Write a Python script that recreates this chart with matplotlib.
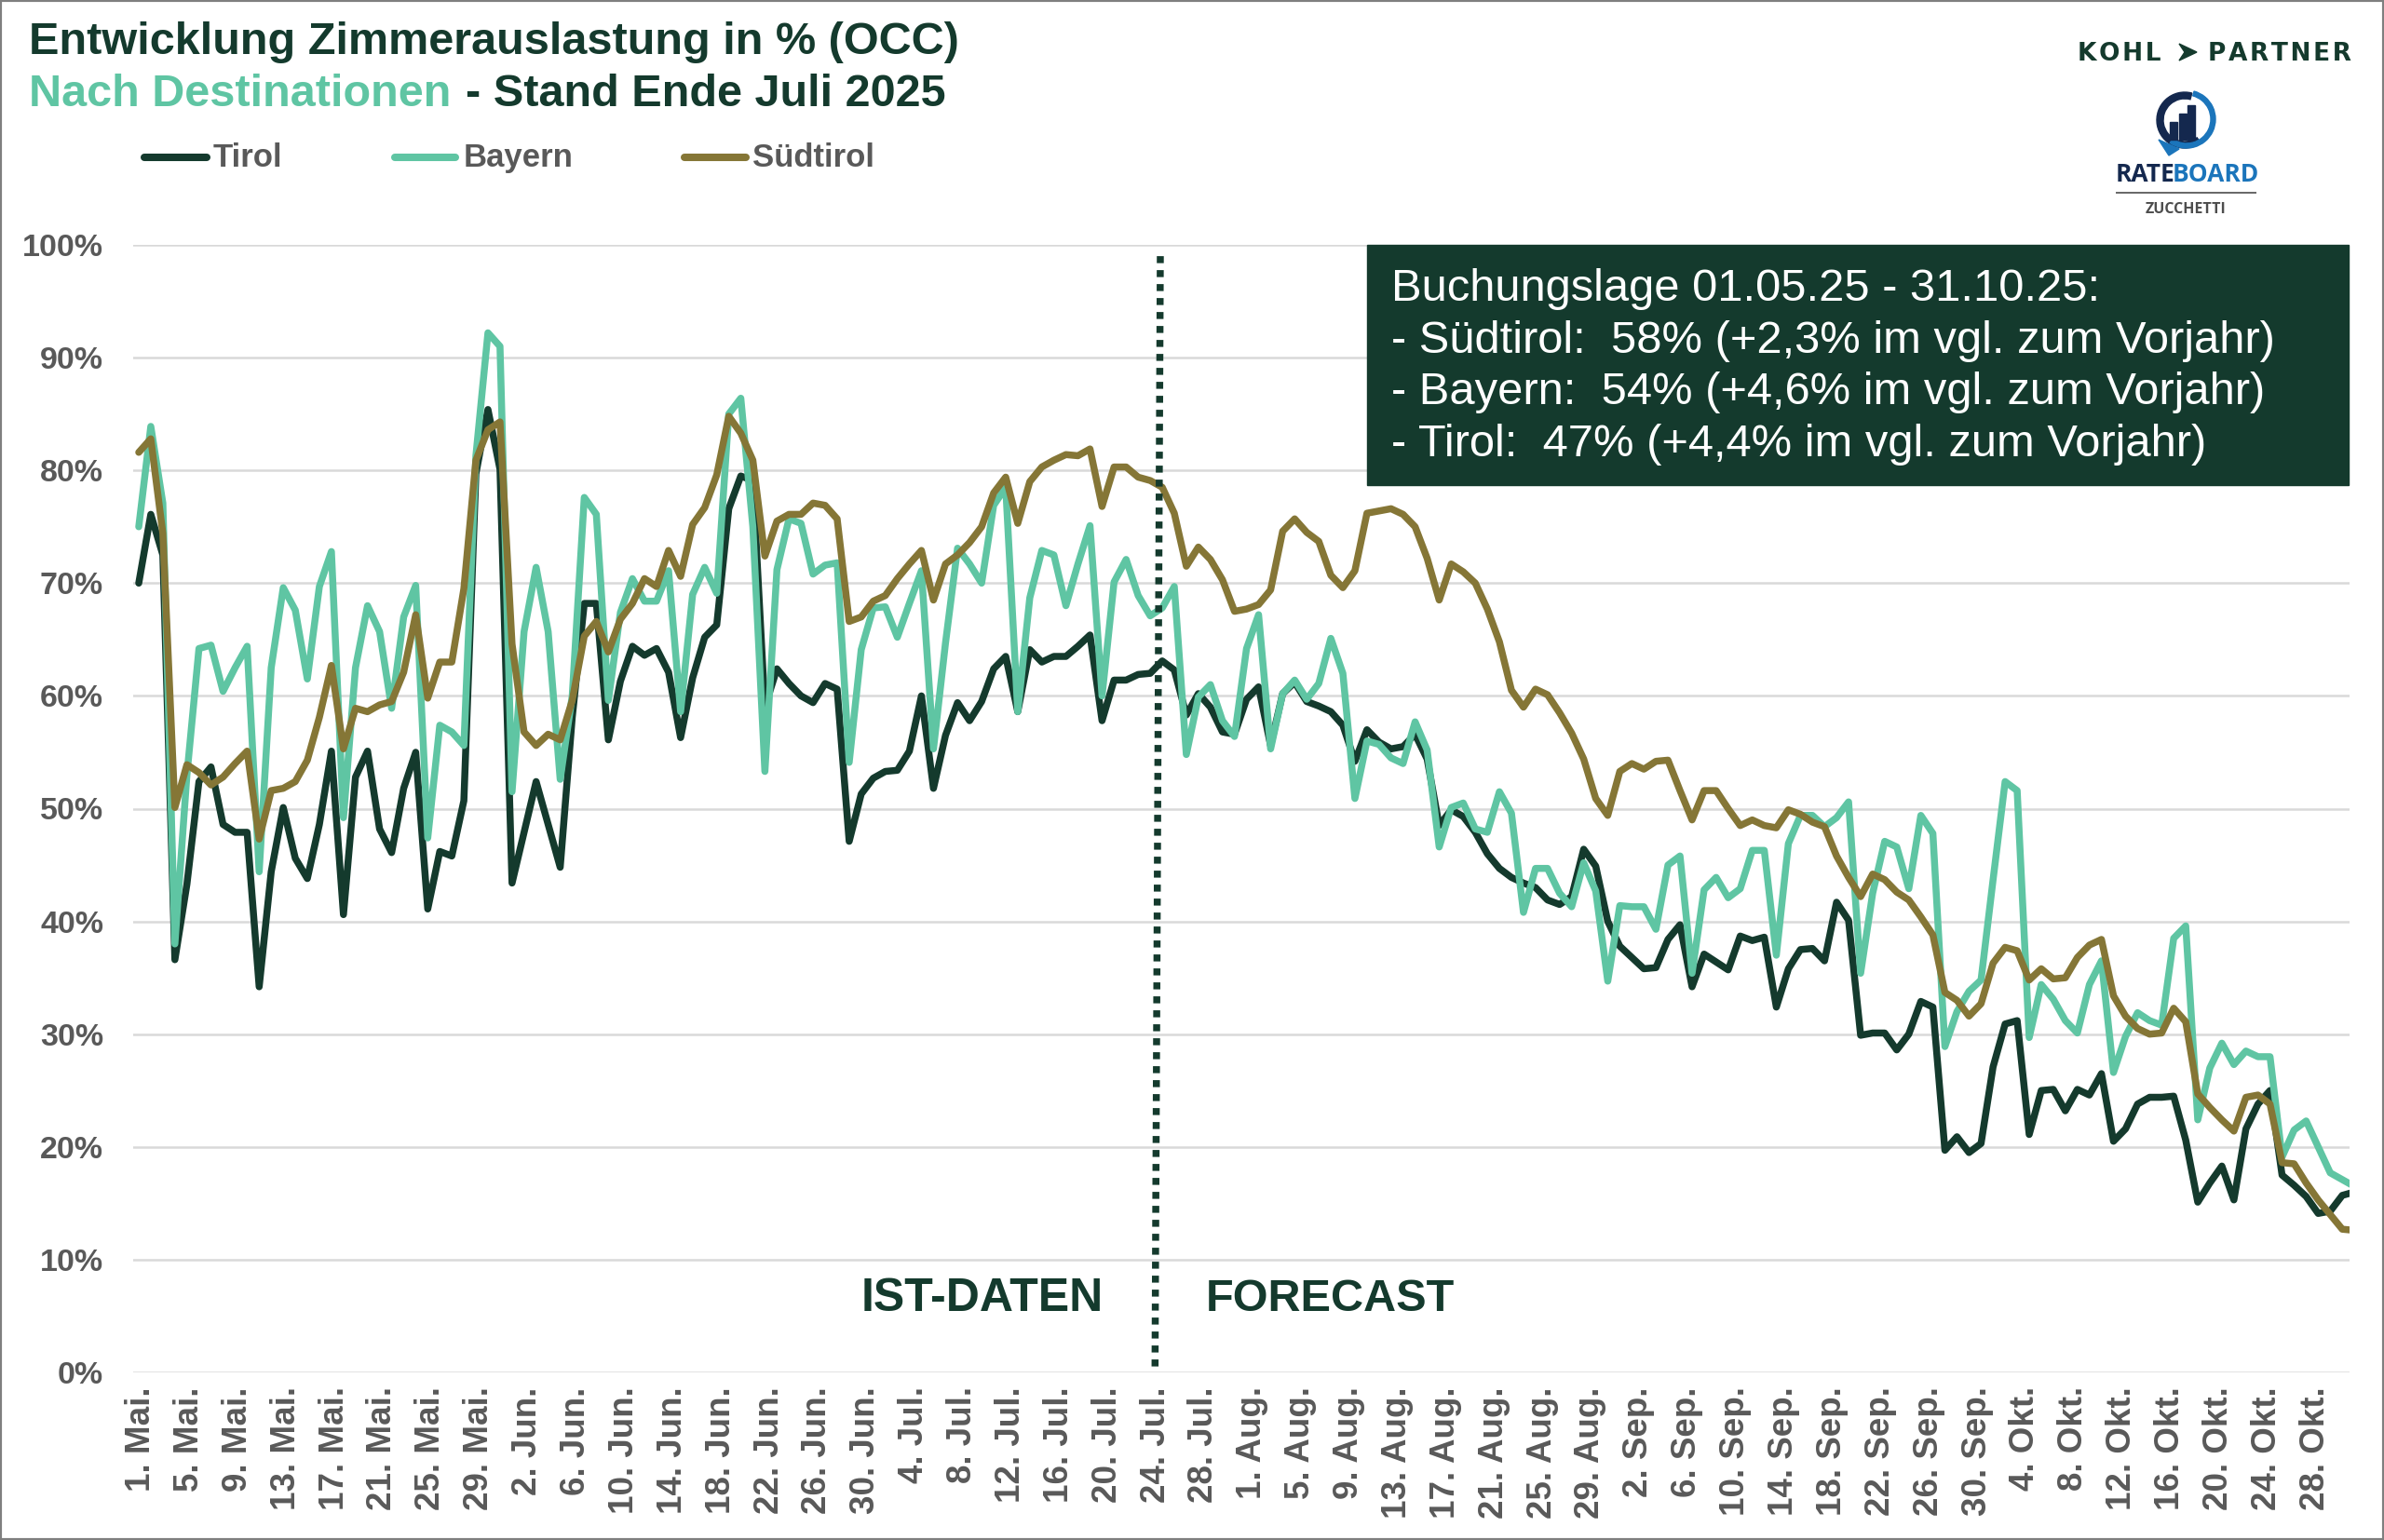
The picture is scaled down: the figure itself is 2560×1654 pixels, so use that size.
#!/usr/bin/env python3

import matplotlib
matplotlib.use("Agg")
import matplotlib.pyplot as plt
from matplotlib.patches import Polygon, Rectangle, Wedge

WIDTH = 2560
HEIGHT = 1654

tirol = [70.0, 76.1, 72.5, 36.6, 43.3, 52.4, 53.7, 48.6, 47.9, 47.9,
         34.2, 44.4, 50.1, 45.6, 43.8, 48.6, 55.1, 40.6, 52.8, 55.1,
         48.2, 46.1, 51.8, 55.0, 41.1, 46.2, 45.8, 50.7, 79.7, 85.4,
         80.1, 43.4, 47.9, 52.4, 48.6, 44.8, 58.1, 68.2, 68.2, 56.1,
         61.3, 64.4, 63.6, 64.2, 62.1, 56.3, 61.6, 65.2, 66.3, 76.6,
         79.5, 79.1, 59.0, 62.4, 61.1, 60.0, 59.4, 61.1, 60.6, 47.1,
         51.3, 52.7, 53.3, 53.4, 55.1, 60.0, 51.8, 56.5, 59.4, 57.8,
         59.5, 62.4, 63.5, 58.6, 64.1, 63.0, 63.5, 63.5, 64.4, 65.4,
         57.8, 61.4, 61.4, 61.9, 62.0, 63.1, 62.3, 58.3, 60.2, 59.0,
         56.8, 56.6, 59.7, 60.8, 55.6, 60.2, 61.2, 59.5, 59.1, 58.6,
         57.4, 54.2, 57.0, 55.9, 55.3, 55.5, 56.6, 54.4, 48.5, 49.9,
         49.3, 47.9, 46.0, 44.7, 43.9, 43.4, 43.0, 41.9, 41.5, 42.2,
         46.4, 44.9, 40.0, 37.8, 36.8, 35.8, 35.9, 38.4, 39.7, 34.2,
         37.1, 36.4, 35.7, 38.7, 38.3, 38.6, 32.4, 35.8, 37.5, 37.6,
         36.5, 41.7, 40.1, 29.9, 30.1, 30.1, 28.6, 30.0, 32.9, 32.4,
         19.7, 20.9, 19.5, 20.3, 27.1, 30.9, 31.2, 21.1, 25.0, 25.1,
         23.2, 25.1, 24.6, 26.5, 20.5, 21.6, 23.8, 24.4, 24.4, 24.5,
         20.6, 15.1, 16.8, 18.3, 15.3, 21.6, 23.8, 25.0, 17.5, 16.6,
         15.6, 14.1, 14.3, 15.7, 16.0]

bayern = [75.0, 83.9, 77.1, 38.0, 53.0, 64.2, 64.5, 60.4, 62.5, 64.4,
          44.4, 62.5, 69.6, 67.6, 61.5, 69.7, 72.8, 49.2, 62.5, 68.0,
          65.7, 58.9, 67.0, 69.8, 47.4, 57.4, 56.8, 55.6, 81.3, 92.2,
          91.0, 51.5, 65.7, 71.4, 65.7, 52.6, 60.0, 77.6, 76.1, 59.6,
          67.4, 70.4, 68.4, 68.4, 71.1, 58.6, 69.0, 71.4, 69.1, 85.0,
          86.4, 75.0, 53.3, 71.2, 75.7, 75.3, 70.8, 71.6, 71.8, 54.1,
          64.1, 67.8, 67.9, 65.2, 68.2, 71.1, 55.3, 64.7, 73.1, 71.7,
          70.0, 76.9, 78.5, 58.6, 68.7, 72.9, 72.5, 68.0, 71.7, 75.1,
          60.0, 70.1, 72.1, 68.9, 67.1, 67.8, 69.7, 54.8, 59.9, 61.0,
          57.8, 56.4, 64.2, 67.2, 55.3, 60.2, 61.4, 59.7, 61.1, 65.1,
          62.0, 50.9, 56.0, 55.7, 54.5, 54.0, 57.7, 55.2, 46.6, 50.1,
          50.5, 48.2, 47.9, 51.5, 49.6, 40.8, 44.7, 44.7, 42.5, 41.3,
          45.2, 42.7, 34.7, 41.4, 41.3, 41.3, 39.3, 45.0, 45.8, 35.4,
          42.8, 43.9, 42.1, 42.9, 46.3, 46.3, 37.0, 46.9, 49.4, 49.4,
          48.4, 49.2, 50.6, 35.4, 42.5, 47.1, 46.6, 42.9, 49.4, 47.8,
          28.9, 32.0, 33.8, 34.8, 43.7, 52.4, 51.6, 29.7, 34.4, 33.1,
          31.2, 30.1, 34.4, 36.5, 26.6, 29.8, 31.9, 31.2, 30.8, 38.5,
          39.6, 22.4, 27.0, 29.2, 27.3, 28.5, 28.0, 28.0, 19.1, 21.5,
          22.3, 20.0, 17.7, 17.1, 16.5]

suedtirol = [81.6, 82.8, 74.4, 50.1, 53.9, 53.2, 52.1, 52.8, 54.0, 55.1,
             47.3, 51.6, 51.8, 52.4, 54.3, 58.1, 62.7, 55.3, 58.9, 58.6,
             59.2, 59.5, 62.1, 67.2, 59.8, 63.0, 63.0, 69.5, 80.9, 83.6,
             84.3, 64.6, 56.8, 55.6, 56.6, 56.1, 59.6, 65.3, 66.6, 63.9,
             66.8, 68.2, 70.4, 69.7, 72.9, 70.6, 75.2, 76.7, 79.6, 84.8,
             83.3, 80.9, 72.4, 75.5, 76.1, 76.1, 77.1, 76.9, 75.7, 66.6,
             67.0, 68.4, 68.9, 70.4, 71.7, 72.9, 68.5, 71.7, 72.5, 73.6,
             75.0, 78.0, 79.4, 75.3, 79.0, 80.3, 80.9, 81.4, 81.3, 81.9,
             76.8, 80.3, 80.3, 79.4, 79.1, 78.5, 76.2, 71.5, 73.2, 72.1,
             70.3, 67.5, 67.7, 68.1, 69.4, 74.6, 75.7, 74.5, 73.7, 70.7,
             69.6, 71.1, 76.2, 76.4, 76.6, 76.1, 75.0, 72.2, 68.5, 71.7,
             71.0, 70.0, 67.7, 64.8, 60.5, 59.0, 60.6, 60.1, 58.5, 56.7,
             54.4, 50.9, 49.4, 53.3, 54.0, 53.5, 54.2, 54.3, 51.6, 49.0,
             51.6, 51.6, 50.0, 48.5, 49.0, 48.5, 48.3, 49.9, 49.5, 48.8,
             48.4, 45.8, 43.9, 42.2, 44.2, 43.7, 42.6, 41.9, 40.4, 38.8,
             33.7, 33.0, 31.6, 32.7, 36.3, 37.7, 37.4, 34.8, 35.8, 34.9,
             35.0, 36.8, 37.9, 38.4, 33.4, 31.6, 30.5, 30.0, 30.1, 32.3,
             31.1, 24.7, 23.5, 22.4, 21.4, 24.4, 24.6, 23.8, 18.6, 18.5,
             16.8, 15.3, 14.0, 12.7, 12.6]

x_labels = ["1. Mai.", "5. Mai.", "9. Mai.", "13. Mai.", "17. Mai.", "21. Mai.", "25. Mai.", "29. Mai.",
            "2. Jun.", "6. Jun.", "10. Jun.", "14. Jun.", "18. Jun.", "22. Jun.", "26. Jun.", "30. Jun.",
            "4. Jul.", "8. Jul.", "12. Jul.", "16. Jul.", "20. Jul.", "24. Jul.", "28. Jul.",
            "1. Aug.", "5. Aug.", "9. Aug.", "13. Aug.", "17. Aug.", "21. Aug.", "25. Aug.", "29. Aug.",
            "2. Sep.", "6. Sep.", "10. Sep.", "14. Sep.", "18. Sep.", "22. Sep.", "26. Sep.", "30. Sep.",
            "4. Okt.", "8. Okt.", "12. Okt.", "16. Okt.", "20. Okt.", "24. Okt.", "28. Okt."]
y_ticks = [0, 10, 20, 30, 40, 50, 60, 70, 80, 90, 100]

box_lines = ["Buchungslage 01.05.25 - 31.10.25:",
             "- Südtirol:  58% (+2,3% im vgl. zum Vorjahr)",
             "- Bayern:  54% (+4,6% im vgl. zum Vorjahr)",
             "- Tirol:  47% (+4,4% im vgl. zum Vorjahr)"]

DARK = "#143A2D"
MINT = "#5FC5A3"
BROWN = "#857636"
GREY = "#595959"
NAVY = "#14284E"
BLUE = "#1B75BB"

plt.rcParams["font.family"] = ["Liberation Sans", "DejaVu Sans"]


def px(x, y):
    return x / WIDTH, 1 - y / HEIGHT


def fig_text(fig, x, y, text, **kwargs):
    fx, fy = px(x, y)
    return fig.text(fx, fy, text, **kwargs)


def draw_series(ax, values, color):
    ax.plot(range(len(values)), values, color=color, lw=5.4, solid_joinstyle="round", solid_capstyle="round")


def draw_header(fig):
    fig_text(fig, 31, 58, "Entwicklung Zimmerauslastung in % (OCC)", color=DARK, fontsize=35, fontweight="bold")
    fig_text(fig, 31, 114, "Nach Destinationen", color=MINT, fontsize=35, fontweight="bold")
    fig_text(fig, 500, 114, "- Stand Ende Juli 2025", color=DARK, fontsize=35, fontweight="bold")

    for (name, color, x0, x1, tx) in [("Tirol", DARK, 155, 222, 229), ("Bayern", MINT, 424, 489, 498), ("Südtirol", BROWN, 735, 801, 808)]:
        fig.add_artist(plt.Line2D([x0 / WIDTH, x1 / WIDTH], [1 - 169 / HEIGHT] * 2, color=color, lw=5.8, solid_capstyle="round"))
        fig_text(fig, tx, 179, name, color=GREY, fontsize=25, fontweight="bold")


def draw_logos(fig):
    # kohl > partner
    hair = "\u200a"
    fig_text(fig, 2231, 65, hair.join("KOHL"), color=DARK, fontsize=19, fontweight="bold", family="DejaVu Sans")
    fig_text(fig, 2371, 65, hair.join("PARTNER"), color=DARK, fontsize=19, fontweight="bold", family="DejaVu Sans")
    arrow = [px(2340, 47), px(2359, 56), px(2340, 65), px(2346, 56)]
    fig.add_artist(Polygon(arrow, closed=True, color=DARK, transform=fig.transFigure))

    # rateboard icon, in its own pixel space
    icon = fig.add_axes([0, 0, 1, 1], facecolor="none")
    icon.set_xlim(0, WIDTH)
    icon.set_ylim(HEIGHT, 0)
    icon.axis("off")
    icon.add_patch(Wedge((2346, 129), 30, 55, 285, width=7, color=NAVY))
    icon.add_patch(Wedge((2348, 128), 31, -75, 125, width=5, color=BLUE))
    icon.add_patch(Polygon([(2318, 150), (2340, 160), (2329, 167)], closed=True, color=BLUE))
    for (x, top) in [(2330, 131), (2340, 122), (2349, 113)]:
        icon.add_patch(Rectangle((x, top), 7.5, 150 - top, color=NAVY))
    icon.plot([2273, 2422], [207, 207], color="#666666", lw=1.4)

    fig_text(fig, 2272, 195, "RATE", color=NAVY, fontsize=19, fontweight="bold", family="Open Sans")
    fig_text(fig, 2333, 195, "BOARD", color=BLUE, fontsize=19, fontweight="bold", family="Open Sans")
    fig_text(fig, 2347, 229, "ZUCCHETTI", color="#4D4D4D", fontsize=11.5, fontweight="bold", family="Open Sans", ha="center")


def draw_box(fig):
    x, y = px(1468, 521)
    w, h = (2522 - 1468) / WIDTH, (521 - 263) / HEIGHT
    fig.add_artist(Rectangle((x, y), w, h, color=DARK, transform=fig.transFigure))
    for (i, line) in enumerate(box_lines):
        fig_text(fig, 1494, 323 + i * 55.7, line, color="white", fontsize=35.2)


if __name__ == '__main__':
    fig = plt.figure(figsize=(WIDTH / 100, HEIGHT / 100), dpi=100, facecolor="white")

    # one day is 12.93 px in the lines, 12.97 px in the labels
    step = 12.93
    ax = fig.add_axes([143 / WIDTH, (HEIGHT - 1474) / HEIGHT, (2523 - 143) / WIDTH, (1474 - 263) / HEIGHT])
    ax.set_xlim((143 - 149) / step, (2523 - 149) / step)
    ax.set_ylim(0, 100)

    ax.yaxis.grid(True, color="#D9D9D9", lw=1.8)
    ax.set_axisbelow(True)
    for spine in ax.spines.values():
        spine.set_visible(False)

    draw_series(ax, tirol, DARK)
    draw_series(ax, bayern, MINT)
    draw_series(ax, suedtirol, BROWN)

    ax.set_yticks(y_ticks)
    ax.set_yticklabels(["%d%%" % v for v in y_ticks], color=GREY, fontsize=24.5, fontweight="bold")
    ax.set_xticks([i * 4 * 12.97 / step + 0.2 for i in range(len(x_labels))])
    ax.set_xticklabels(x_labels, rotation=90, color=GREY, fontsize=26.5, fontweight="bold")
    ax.tick_params(axis="y", length=0, pad=23)
    ax.tick_params(axis="x", length=0, pad=11)

    # dotted separator leans a little in the source
    ax.plot([84.84, 84.4], [99.0, 0.3], color=DARK, lw=5.4, linestyle=(0, (1, 1)), dash_capstyle="butt")

    fig_text(fig, 1055, 1408, "IST-DATEN", color=DARK, fontsize=36, fontweight="bold", ha="center")
    fig_text(fig, 1428, 1408, "FORECAST", color=DARK, fontsize=35, fontweight="bold", ha="center")

    draw_header(fig)
    draw_box(fig)
    draw_logos(fig)

    fig.add_artist(Rectangle((0, 0), 1, 1, fill=False, edgecolor="#7F7F7F", lw=3, transform=fig.transFigure))

    fig.savefig("out.png", dpi=100)
